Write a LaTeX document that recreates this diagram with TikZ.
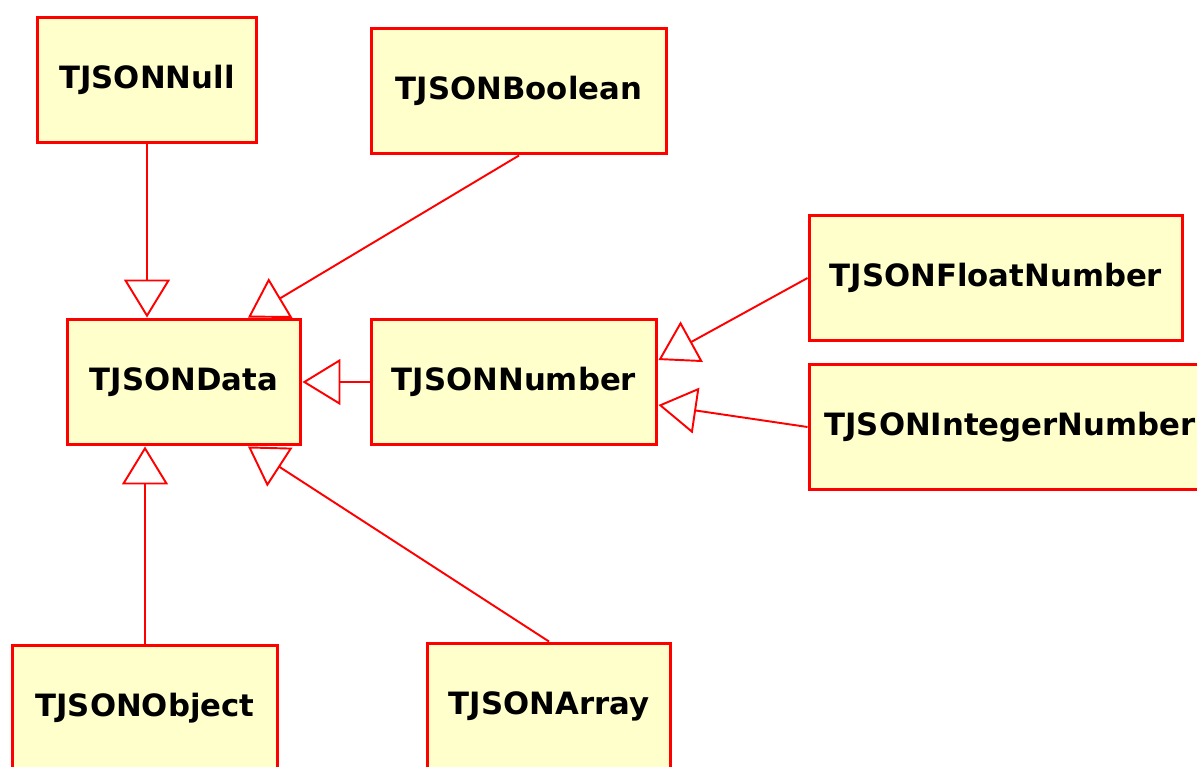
\documentclass[tikz,border=0pt]{standalone}
\usepackage{fontspec}
\setmainfont{DejaVu Sans}
\usepackage{tikz}
\usetikzlibrary{arrows.meta}
\definecolor{umlfill}{RGB}{255,255,204}

\begin{document}
\begin{tikzpicture}[x=0.02cm, y=-0.02cm, inner sep=0pt, minimum height=2.52cm]
    \tikzstyle{cls}=[rectangle, fill=umlfill, draw=red, line width=1.7pt, text=black,
      font=\fontsize{17.5}{20}\selectfont\bfseries]
    \tikzstyle{inh}=[-{Triangle[open, length=7.6mm, width=9.2mm]}, draw=red, line width=1.1pt]

    \clip (0,0) rectangle (1197,767);

    \node[cls, minimum width=4.4cm] (Null) at (147,80) {TJSONNull};
    \node[cls, minimum width=5.92cm] (Boolean) at (519,91) {TJSONBoolean};
    \node[cls, minimum width=4.68cm] (Data) at (184,382) {TJSONData};
    \node[cls, minimum width=5.72cm] (Number) at (514,382) {TJSONNumber};
    \node[cls, minimum width=7.48cm] (Float) at (996,278) {TJSONFloatNumber};
    \node[cls, minimum width=8.04cm] (Integer) at (1010,427) {TJSONIntegerNumber};
    \node[cls, minimum width=5.3cm] (Object) at (145,708) {TJSONObject};
    \node[cls, minimum width=4.88cm] (Array) at (549,706) {TJSONArray};

    % heritage
    \draw[inh] (Null.south) -- (Null.south |- Data.north);
    \draw[inh] (Boolean.south) -- ([xshift=1.28cm] Data.north);
    \draw[inh] (Number.west) -- (Data.east);
    \draw[inh] (Object.north) -- (Object.north |- Data.south);
    \draw[inh] (Array.north) -- ([xshift=1.28cm] Data.south);

    \draw[inh] (Float.west) -- ([yshift=+0.44cm] Number.east);
    \draw[inh] (Integer.west) -- ([yshift=-0.46cm] Number.east);
\end{tikzpicture}
\end{document}
